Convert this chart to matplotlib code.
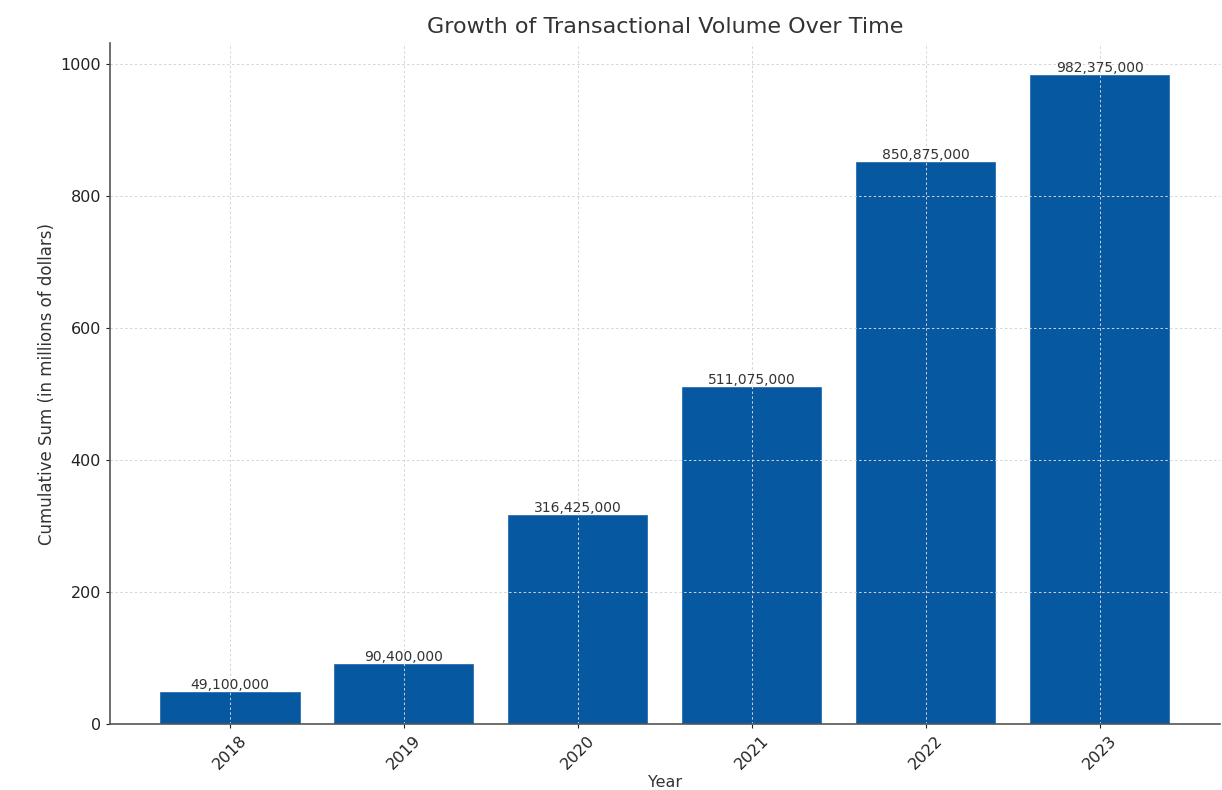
import matplotlib.pyplot as plt

years = ['2018', '2019', '2020', '2021', '2022', '2023']
cumulative = [49100000, 90400000, 316425000, 511075000, 850875000, 982375000]

BAR_COLOR = '#0659a0'
TEXT_COLOR = '#333333'

values_m = [v / 1e6 for v in cumulative]

fig = plt.figure(figsize=(12.22, 7.9), dpi=100)
ax = fig.add_axes([0.09, 0.0835, 0.908, 0.862])

bars = ax.bar(years, values_m, width=0.8, color=BAR_COLOR, edgecolor='#2a70b0', linewidth=0.6)

for b, v in zip(bars, cumulative):
    ax.text(b.get_x() + b.get_width() / 2, b.get_height(), '{:,}'.format(v),
            ha='center', va='bottom', fontsize=10, color=TEXT_COLOR)

ax.set_title('Growth of Transactional Volume Over Time', fontsize=16, color=TEXT_COLOR, pad=7)
ax.set_xlabel('Year', fontsize=11.5, color=TEXT_COLOR, labelpad=2)
ax.set_ylabel('Cumulative Sum (in millions of dollars)', fontsize=12, color=TEXT_COLOR, labelpad=3)

ax.tick_params(axis='x', rotation=45, labelsize=11.5, colors='#222222', length=3)
ax.tick_params(axis='y', labelsize=11.5, colors='#222222', length=3)
ax.set_yticks([0, 200, 400, 600, 800, 1000])

ax.grid(True, linestyle=(0, (2.5, 2.5)), color='#d4d4d4', linewidth=0.7)
for s in ['top', 'right']:
    ax.spines[s].set_visible(False)
for s in ['left', 'bottom']:
    ax.spines[s].set_color('#555555')
    ax.spines[s].set_linewidth(1.2)

fig.savefig('out.png', dpi=100)
